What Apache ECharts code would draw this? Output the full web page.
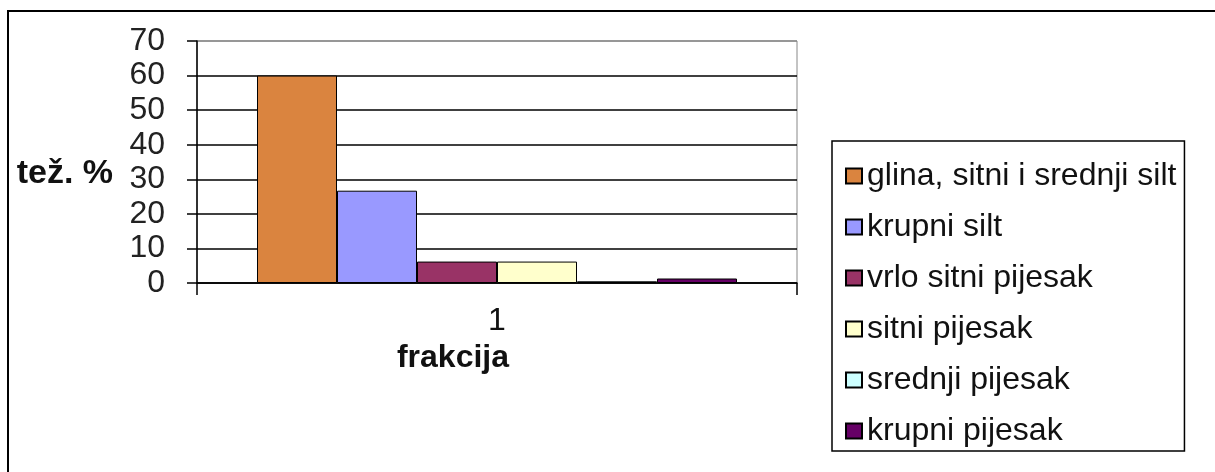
<!DOCTYPE html>
<html>
<head>
<meta charset="utf-8">
<script src="https://cdn.jsdelivr.net/npm/echarts@6/dist/echarts.min.js"></script>
<style>
html,body{margin:0;padding:0;background:#fff;}
#chart{width:1215px;height:472px;}
</style>
</head>
<body>
<div id="chart"></div>
<script>
const categories = ['1'];
const seriesNames = ['glina, sitni i srednji silt', 'krupni silt', 'vrlo sitni pijesak', 'sitni pijesak', 'srednji pijesak', 'krupni pijesak'];
const seriesValues = [60, 26.7, 6.2, 6.2, 0.5, 1.3];
const seriesColors = ['#DA843F', '#9999FF', '#993366', '#FFFFCC', '#CCFFFF', '#660066'];
const yTicks = [0, 10, 20, 30, 40, 50, 60, 70];
const yAxisName = 'tež. %';
const xAxisName = 'frakcija';

const font = 'Liberation Sans, Arial, sans-serif';
const chart = echarts.init(document.getElementById('chart'));

const series = seriesNames.map((name, i) => ({
  name: name,
  type: 'bar',
  data: [seriesValues[i]],
  barGap: 0,
  barCategoryGap: '20%',
  itemStyle: { color: seriesColors[i], borderColor: '#000', borderWidth: 1 }
}));

const splitColors = yTicks.map((t, i) => i === yTicks.length - 1 ? '#888' : '#000');

chart.setOption({
  animation: false,
  backgroundColor: '#fff',
  graphic: [{
    type: 'rect',
    shape: { x: 8, y: 11, width: 1230, height: 480 },
    style: { fill: 'none', stroke: '#000', lineWidth: 2 },
    z: 0
  }],
  grid: {
    left: 197, right: 418, top: 41, bottom: 189,
    show: true, borderColor: '#888', borderWidth: 1, backgroundColor: 'transparent'
  },
  legend: {
    orient: 'vertical',
    left: 832, top: 141,
    padding: [19, 8, 4, 13],
    itemGap: 19,
    itemWidth: 16, itemHeight: 15,
    icon: 'rect',
    borderColor: '#000', borderWidth: 1.5,
    textStyle: { fontFamily: font, fontSize: 32, color: '#111', lineHeight: 32 },
    data: seriesNames
  },
  xAxis: {
    type: 'category',
    data: categories,
    name: xAxisName,
    nameLocation: 'middle',
    nameGap: 53,
    nameTextStyle: { fontFamily: font, fontSize: 32, fontWeight: 'bold', color: '#111', padding: [0, 88, 0, 0] },
    axisLine: { lineStyle: { color: '#000', width: 1.5 } },
    axisTick: { show: true, length: 12, lineStyle: { color: '#000', width: 1.5 } },
    axisLabel: { fontFamily: font, fontSize: 32, color: '#111', margin: 22 }
  },
  yAxis: {
    type: 'value',
    min: 0, max: 70, interval: 10,
    name: yAxisName,
    nameLocation: 'middle',
    nameRotate: 0,
    nameGap: 84,
    nameTextStyle: { fontFamily: font, fontSize: 34, fontWeight: 'bold', color: '#111', verticalAlign: 'top', lineHeight: 24 },
    axisLine: { show: true, lineStyle: { color: '#000', width: 1.5 } },
    axisTick: { show: true, length: 10, lineStyle: { color: '#000', width: 1.5 } },
    axisLabel: { fontFamily: font, fontSize: 32, color: '#222', margin: 32 },
    splitLine: { show: true, lineStyle: { color: splitColors, width: 1.5 } }
  },
  series: series
});
</script>
</body>
</html>
